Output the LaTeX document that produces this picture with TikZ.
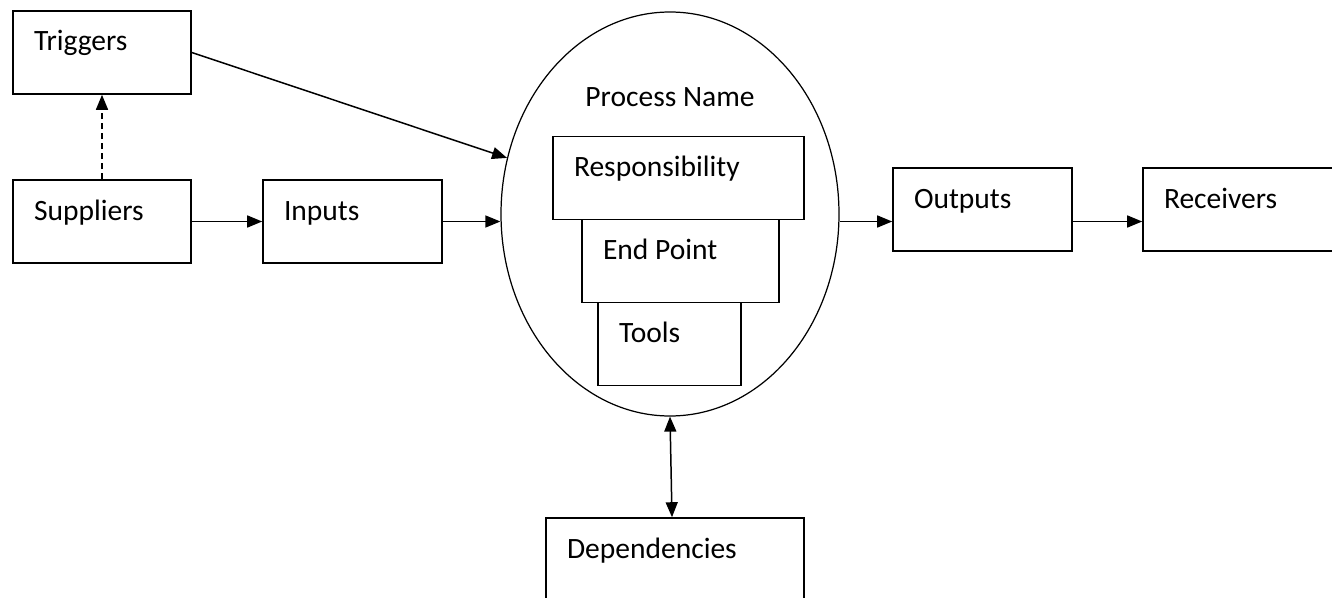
\documentclass[tikz,border=0pt]{standalone}
\usepackage{fontspec}
\setmainfont{Carlito}
\usepackage{tikz}
\usetikzlibrary{arrows.meta}
\usetikzlibrary{shapes.geometric}
\tikzset{%
    box/.style={draw, line width=0.9pt, inner xsep=0.42cm, inner ysep=0pt,
        text height=0.8cm, text depth=0.86cm, align=flush left, text width=#1},
    flow/.style={line width=0.85pt, -{Triangle[length=0.3cm,width=0.24cm]}}
}

\begin{document}
\begin{tikzpicture}[font=\fontsize{16.8}{20}\selectfont]
            % page frame
            \clip (0,0) rectangle (26.64,11.94);

            % left column
            \node[box=2.72cm] (trig) at (2.04,10.89){Triggers};
            \node[box=2.72cm] (supp) at (2.04,7.51){Suppliers};
            \node[box=2.74cm] (inp) at (7.05,7.51){Inputs};

            % the process itself
            \node[ellipse, draw, line width=0.7pt, inner sep=0pt,
                minimum width=6.76cm, minimum height=8.08cm] (proc) at (13.4,7.66){};
            \node (pname) at (13.4,10.0){Process Name};
            \node[box=4.18cm] (resp) at (13.57,8.38){Responsibility};
            \node[box=3.10cm] (endp) at (13.61,6.72){End Point};
            \node[box=2.02cm] (tools) at (13.39,5.06){Tools};

            % right side
            \node[box=2.74cm] (outp) at (19.65,7.75){Outputs};
            \node[box=3.16cm] (recv) at (24.86,7.75){Receivers};

            % below
            \node[box=4.32cm] (deps) at (13.5,0.75){Dependencies};
            \coordinate (dtop) at ([xshift=-0.06cm]deps.north);

            % connectors
            \draw[flow, dashed, dash pattern=on 3.4pt off 2.3pt] (supp.north) -- (trig.south);
            \draw[flow] (trig.east) -- (proc.161);
            \draw[flow] (supp.east) -- (inp.west);
            \draw[flow] (inp.east) -- (inp.east -| proc.west);
            \draw[flow] (proc.east |- inp.east) -- (outp.west |- inp.east);
            \draw[flow] (outp.east |- inp.east) -- (recv.west |- inp.east);
            \draw[flow, {Triangle[length=0.3cm,width=0.24cm]}-{Triangle[length=0.3cm,width=0.24cm]}] (proc.south) -- (dtop);
        \end{tikzpicture}
\end{document}
